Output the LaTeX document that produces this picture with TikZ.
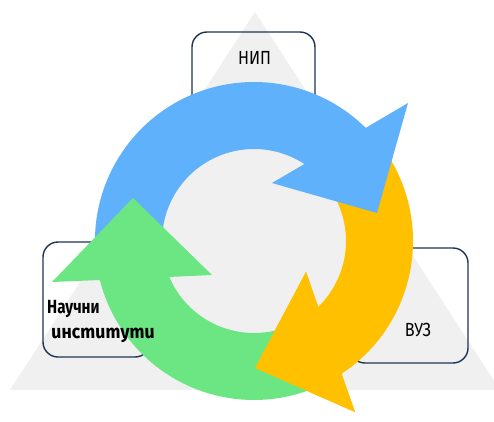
\documentclass[tikz,border=0pt]{standalone}
\usepackage{fontspec}
\setmainfont{Fira Sans}[FakeStretch=0.85]
\newfontfamily\bgfont{Fira Sans}[FakeStretch=0.8]
\newfontfamily\bgitfont{Fira Sans}[FakeStretch=0.95,ItalicFeatures={FakeSlant=-0.16},BoldItalicFeatures={FakeSlant=-0.16}]
\definecolor{tri_gray}{RGB}{240,240,240}
\definecolor{box_edge}{RGB}{30,51,84}
\definecolor{ring_blue}{RGB}{94,177,250}
\definecolor{ring_yell}{RGB}{255,192,0}
\definecolor{ring_green}{RGB}{107,230,131}

\begin{document}
\begin{tikzpicture}[x=1pt,y=1pt]
    \tikzstyle{label}=[text=black,inner sep=0pt,font=\fontsize{19}{21}\selectfont]
    \tikzstyle{blabel}=[style=label,anchor=west,font=\fontsize{19}{21}\selectfont\bgfont\bfseries]
    \tikzstyle{unit}=[draw=box_edge,line width=1.4pt,rounded corners=15pt,fill=none]

    \useasboundingbox (-254,-180) rectangle (240,241);
    \fill[tri_gray] (1,229) -- (-244,-149) -- (246,-149) -- cycle;

    % boxes behind the ring
    \node[unit,minimum width=123pt,minimum height=78pt]  (nip) at (-0.5,170)   {};
    \node[unit,minimum width=107pt,minimum height=115pt] (ni)  at (-157.5,-58.5) {};
    \node[unit,minimum width=118pt,minimum height=115pt] (vuz) at (155,-64.5)  {};

    % ring arrows
    \fill[ring_yell] (33:159) arc[start angle=33, end angle=-56.6, radius=159]
      -- (101,-171) -- (1,-127) -- (52,-31) -- (-45.8:92)
      arc[start angle=-45.8, end angle=33, radius=92] -- cycle;
    \fill[ring_blue] (190:159) arc[start angle=190, end angle=45.35, radius=159]
      -- (154,138) -- (123,28) -- (18,58) -- (56.8:92)
      arc[start angle=56.8, end angle=190, radius=92] -- cycle;
    \fill[ring_green] (-68:159) arc[start angle=-68, end angle=-165.8, radius=159]
      -- (-202,-41) -- (-121,43) -- (-42,-34) -- (-157:92)
      arc[start angle=-157, end angle=-68, radius=92] -- cycle;
    \fill[ring_yell] (101,-171) -- (1,-127) -- (52,-31) -- cycle;

    \node[label] (nip_t) at (0.5,183) {НИП};
    \node[label] (vuz_t) at (164,-89) {ВУЗ};
    \node[blabel] (ni_a) at (-207,-68) {Научни};
    \node[blabel] (ni_b) at (-202,-94) {\bgitfont\bfseries\itshape институти};
\end{tikzpicture}
\end{document}
